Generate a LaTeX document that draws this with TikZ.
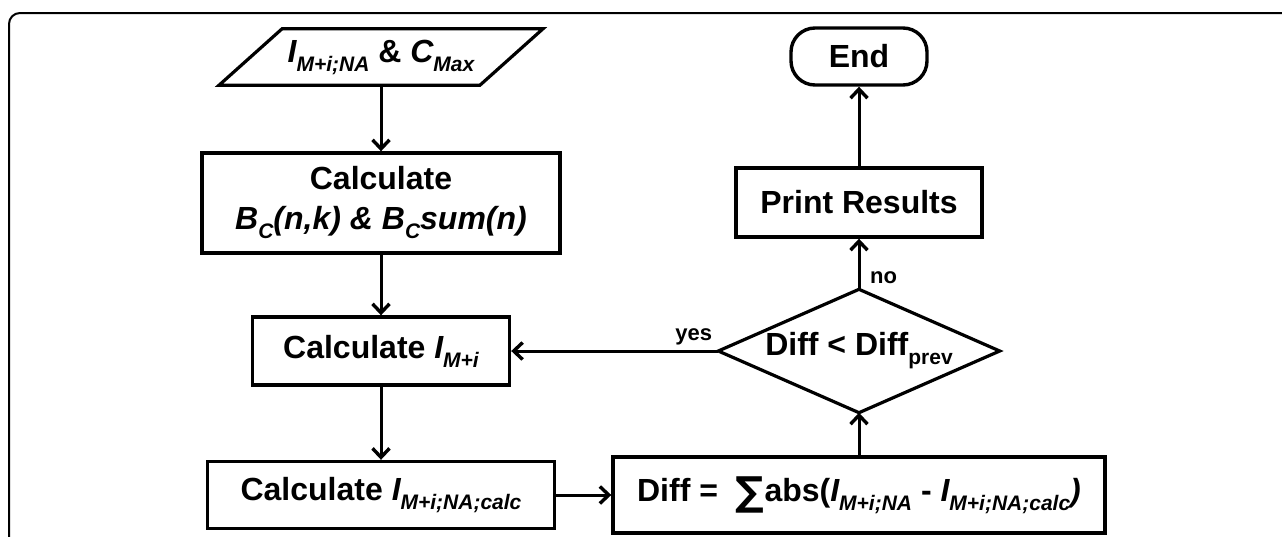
\documentclass[tikz,border=0pt]{standalone}
\usepackage{fontspec}
\setmainfont{Liberation Sans}
\newfontfamily\symfont{DejaVu Sans}
\usetikzlibrary{arrows.meta,calc}
\newcommand{\lo}[1]{\raisebox{-9pt}{\fontsize{21}{21}\selectfont #1}}
\newcommand{\bigsum}{{\symfont\fontsize{40}{40}\selectfont\raisebox{-4pt}{∑}}}
\begin{document}
\begin{tikzpicture}[x=1pt,y=-1pt,
  box/.style={draw, line width=3.4pt, rectangle, inner sep=0pt, align=center,
    font=\fontsize{32}{40}\selectfont\bfseries},
  shapetext/.style={draw=none, rectangle, inner sep=0pt, align=center,
    font=\fontsize{32}{40}\selectfont\bfseries},
  outline/.style={line width=3.2pt, line join=miter},
  arr/.style={line width=3pt, -{Straight Barb[length=9pt,width=17pt,line width=3.4pt]}},
  lbl/.style={font=\fontsize{22}{22}\selectfont\bfseries, inner sep=0pt}]
\useasboundingbox (0,0) rectangle (1282,536);
% outer frame
\draw[line width=2pt, rounded corners=11pt] (9,545) -- (9,13) -- (1295,13);
% input parallelogram
\node[shapetext, minimum width=260.5pt, minimum height=56pt] (in) at (381,57)
  {{\itshape I\lo{M+i;NA}} \& {\itshape C\lo{Max}}};
\draw[outline] ($(in.north west)+(31.5,0)$) -- ($(in.north east)+(31.5,0)$)
  -- ($(in.south east)+(-31.5,0)$) -- ($(in.south west)+(-31.5,0)$) -- cycle;
% process boxes
\node[box, minimum width=358pt, minimum height=100pt] (bc) at (381,203)
  {Calculate\\{\itshape B\lo{C}(n,k) \& B\lo{C}sum(n)}};
\node[box, minimum width=257pt, minimum height=68pt] (im) at (381,351)
  {Calculate {\itshape I\lo{M+i}}};
\node[box, minimum width=347pt, minimum height=67pt] (ic) at (381,495)
  {Calculate {\itshape I\lo{M+i;NA;calc}}};
\node[box, minimum width=492pt, minimum height=76pt] (diff) at (859,495)
  {Diff =\; \bigsum abs({\itshape I\lo{M+i;NA}} - {\itshape I\lo{M+i;NA;calc})}};
% decision diamond
\node[shapetext, minimum width=281pt, minimum height=123pt] (dia) at (859,351)
  {Diff < Diff\lo{prev}};
\draw[outline] (dia.north) -- (dia.east) -- (dia.south) -- (dia.west) -- cycle;
\node[box, minimum width=246pt, minimum height=69pt] (pr) at (859,202.5) {Print Results};
\node[box, rounded corners=24pt, minimum width=136pt, minimum height=57pt] (end) at (859,56.5) {End};
% connectors
\draw[arr] (in.south) -- (bc.north);
\draw[arr] (bc.south) -- (im.north);
\draw[arr] (im.south) -- (ic.north);
\draw[arr] (ic.east) -- (diff.west);
\draw[arr] (diff.north) -- (dia.south);
\draw[arr] (dia.west) -- (im.east);
\draw[arr] (dia.north) -- (pr.south);
\draw[arr] (pr.north) -- (end.south);
% labels
\node[lbl, anchor=base east] (yes) at ($(dia.west)+(-6,-11)$) {yes};
\node[lbl, anchor=base west] (no) at ($(dia.north)+(11,-6)$) {no};
\end{tikzpicture}
\end{document}
